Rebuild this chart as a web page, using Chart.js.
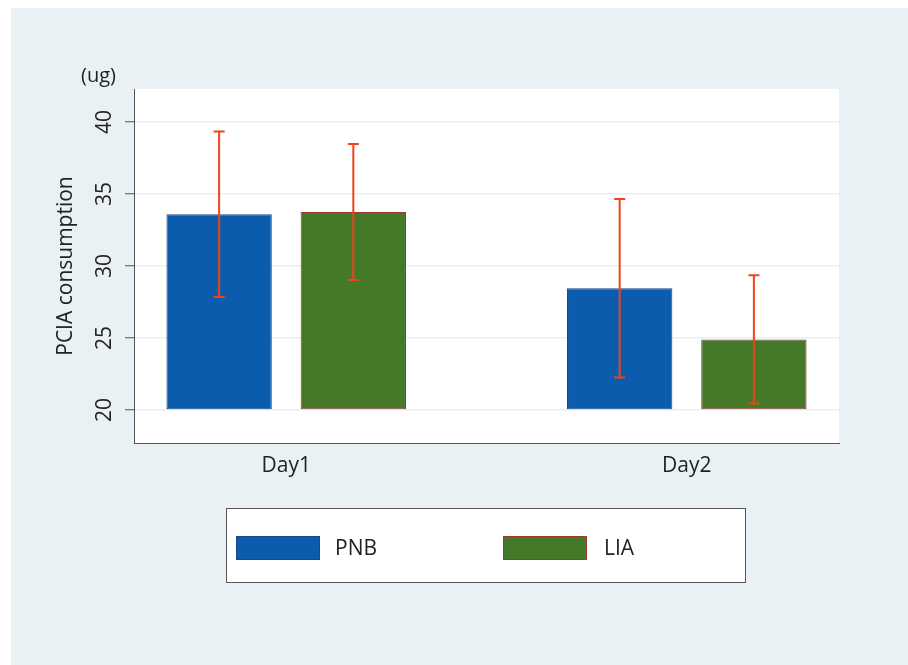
<!DOCTYPE html>
<html>
<head>
<meta charset="utf-8">
<script src="https://cdn.jsdelivr.net/npm/chart.js@4.4.1/dist/chart.umd.min.js"></script>
<style>
  html, body { margin: 0; padding: 0; background: #ffffff; }
  #wrap { width: 908px; height: 665px; }
</style>
</head>
<body>
<div id="wrap"><canvas id="c" width="908" height="665"></canvas></div>
<script>
// ---- data ----
const categories = ['Day1', 'Day2'];
const seriesNames = ['PNB', 'LIA'];
const pnbMean = [33.6, 28.45];
const pnbSD = [5.75, 6.2];
const liaMean = [33.75, 24.9];
const liaSD = [4.72, 4.45];
const yTicks = [20, 25, 30, 35, 40];
const yBase = 20;
const yUnit = '(ug)';
const yTitle = 'PCIA consumption';

const FONT = '"Open Sans", "Noto Sans", sans-serif';
const TEXT = '#222222';
const colors = {
  PNB: { fill: '#0B5CAD', border: '#1B4786' },
  LIA: { fill: '#44792A', border: '#9A3A28' }
};
const errColor = '#F0431C';

function toPoints(vals) { return vals.map((v, i) => ({ x: i + 1, y: v })); }

const bgPlugin = {
  id: 'bg',
  beforeDraw(chart) {
    const { ctx, chartArea: a } = chart;
    ctx.save();
    ctx.fillStyle = '#ffffff';
    ctx.fillRect(0, 0, chart.width, chart.height);
    ctx.fillStyle = '#EAF1F4';
    ctx.fillRect(11, 8, chart.width - 11, chart.height - 8);
    ctx.fillStyle = '#ffffff';
    ctx.fillRect(a.left, a.top, a.right - a.left, a.bottom - a.top);
    ctx.restore();
  }
};

const errPlugin = {
  id: 'err',
  afterDatasetsDraw(chart) {
    const { ctx } = chart;
    const y = chart.scales.y;
    const sds = [pnbSD, liaSD];
    const means = [pnbMean, liaMean];
    ctx.save();
    ctx.strokeStyle = errColor;
    ctx.lineWidth = 2;
    chart.data.datasets.forEach((ds, di) => {
      const meta = chart.getDatasetMeta(di);
      meta.data.forEach((bar, i) => {
        const x = bar.x;
        const top = y.getPixelForValue(means[di][i] + sds[di][i]);
        const bot = y.getPixelForValue(means[di][i] - sds[di][i]);
        ctx.beginPath();
        ctx.moveTo(x, top); ctx.lineTo(x, bot);
        ctx.moveTo(x - 5.5, top); ctx.lineTo(x + 5.5, top);
        ctx.moveTo(x - 5.5, bot); ctx.lineTo(x + 5.5, bot);
        ctx.stroke();
      });
    });
    ctx.restore();
  }
};

const extraPlugin = {
  id: 'extra',
  afterDraw(chart) {
    const { ctx } = chart;
    ctx.save();
    // unit label
    ctx.fillStyle = TEXT;
    ctx.font = '20px ' + FONT;
    ctx.textAlign = 'left';
    ctx.textBaseline = 'alphabetic';
    ctx.fillText(yUnit, 81, 82);
    // legend box
    const bx = 226.5, by = 508.5, bw = 519, bh = 74;
    ctx.fillStyle = '#ffffff';
    ctx.fillRect(bx, by, bw, bh);
    ctx.strokeStyle = '#555555';
    ctx.lineWidth = 1;
    ctx.strokeRect(bx, by, bw, bh);
    const items = [
      { x: 236, tx: 335 },
      { x: 503, tx: 604 }
    ];
    chart.data.datasets.forEach((ds, i) => {
      const it = items[i];
      ctx.fillStyle = ds.backgroundColor;
      ctx.fillRect(it.x, 536, 84, 24);
      ctx.strokeStyle = ds.borderColor;
      ctx.strokeRect(it.x + 0.5, 536.5, 83, 23);
      ctx.fillStyle = TEXT;
      ctx.font = '21px ' + FONT;
      ctx.textBaseline = 'middle';
      ctx.fillText(ds.label, it.tx, 549);
    });
    ctx.restore();
  }
};

new Chart(document.getElementById('c'), {
  type: 'bar',
  data: {
    datasets: [
      {
        label: seriesNames[0],
        data: toPoints(pnbMean),
        base: yBase,
        backgroundColor: colors.PNB.fill,
        borderColor: colors.PNB.border,
        borderWidth: 1,
        borderSkipped: false,
        categoryPercentage: 0.67,
        barPercentage: 0.785
      },
      {
        label: seriesNames[1],
        data: toPoints(liaMean),
        base: yBase,
        backgroundColor: colors.LIA.fill,
        borderColor: colors.LIA.border,
        borderWidth: 1,
        borderSkipped: false,
        categoryPercentage: 0.67,
        barPercentage: 0.785
      }
    ]
  },
  options: {
    responsive: false,
    animation: false,
    devicePixelRatio: 1,
    layout: { padding: { left: 0, top: 89, right: 69, bottom: 162 } },
    plugins: { legend: { display: false }, tooltip: { enabled: false } },
    scales: {
      x: {
        type: 'linear',
        offset: false,
        min: 0.62,
        max: 2.38,
        afterBuildTicks(s) { s.ticks = categories.map((c, i) => ({ value: i + 1 })); },
        afterFit(s) { s.height = 60; },
        grid: { display: false, drawTicks: false, offset: false },
        border: { display: true, color: '#555555', width: 1 },
        ticks: {
          color: TEXT,
          font: { family: FONT, size: 21 },
          padding: 10,
          maxRotation: 0,
          minRotation: 0,
          callback(v) { return categories[Math.round(v) - 1] || ''; }
        }
      },
      y: {
        type: 'linear',
        min: 17.7,
        max: 42.3,
        afterBuildTicks(s) { s.ticks = yTicks.map(v => ({ value: v })); },
        afterFit(s) { s.width = 134; },
        grid: {
          color: '#E8EEF1',
          lineWidth: 1.5,
          drawTicks: true,
          tickLength: 9,
          tickColor: '#555555',
          tickWidth: 1
        },
        border: { display: true, color: '#555555', width: 1 },
        ticks: {
          color: TEXT,
          font: { family: FONT, size: 21 },
          padding: 8,
          minRotation: 90,
          maxRotation: 90,
          crossAlign: 'center',
          callback(v) { return String(v); }
        },
        title: {
          display: true,
          text: yTitle,
          color: TEXT,
          font: { family: FONT, size: 21 },
          padding: { top: 53, bottom: 0 }
        }
      }
    }
  },
  plugins: [bgPlugin, errPlugin, extraPlugin]
});
</script>
</body>
</html>
